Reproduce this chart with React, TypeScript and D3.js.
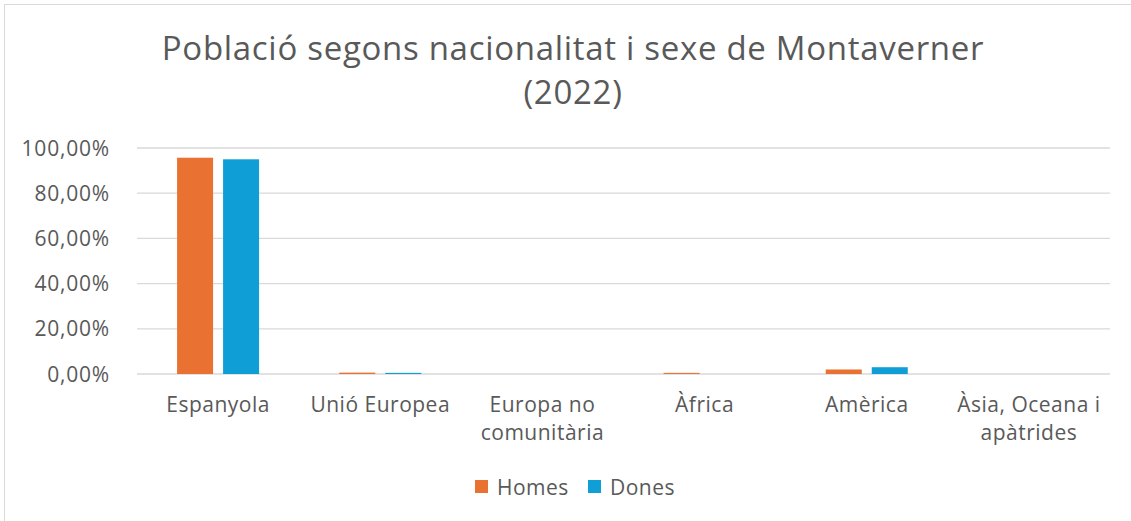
import React from 'react';
import * as d3 from 'd3';

// Values (share of each sex's population, %)
const CATEGORIES = [
  ['Espanyola'],
  ['Unió Europea'],
  ['Europa no', 'comunitària'],
  ['Àfrica'],
  ['Amèrica'],
  ['Àsia, Oceana i', 'apàtrides'],
];
const HOMES = [95.7, 0.6, 0.0, 0.5, 2.0, 0.0];
const DONES = [95.0, 0.5, 0.0, 0.0, 3.0, 0.0];
const SERIES = [
  { name: 'Homes', values: HOMES, color: '#E97132' },
  { name: 'Dones', values: DONES, color: '#0F9ED5' },
];
const Y_TICKS = [0, 20, 40, 60, 80, 100];

const W = 1131;
const H = 521;
const FONT = '"Open Sans", Inter, sans-serif';
const TEXT = '#595959';

const App = () => {
  const keys = CATEGORIES.map((c) => c.join(' '));
  const x = d3.scaleBand<string>().domain(keys).range([137, 1110]);
  const y = d3.scaleLinear().domain([0, 100]).range([374, 148]);
  const barW = 36;
  const gap = 10;
  const fmt = (v: number) => d3.format('.2f')(v).replace('.', ',') + '%';

  return (
    <svg width={W} height={H} style={{ position: 'absolute', left: 0, top: 0 }} fontFamily={FONT}>
      <rect x={0} y={0} width={W} height={H} fill="#fff" />
      <rect x={4.5} y={4.5} width={W + 10} height={H + 10} fill="none" stroke="#d9d9d9" />

      <g fontSize={33} fill={TEXT} letterSpacing={0.7} textAnchor="middle">
        <text x={573} y={60}>Població segons nacionalitat i sexe de Montaverner</text>
        <text x={573} y={104}>(2022)</text>
      </g>

      {Y_TICKS.map((t) => (
        <g key={t}>
          <line x1={137} x2={1110} y1={y(t)} y2={y(t)} stroke="#d9d9d9" strokeWidth={1.3} />
          <text x={110} y={y(t)} dy="0.36em" textAnchor="end" fontSize={21} letterSpacing={0.8} fill={TEXT}>
            {fmt(t)}
          </text>
        </g>
      ))}

      {keys.map((k, i) => {
        const cx = (x(k) as number) + x.bandwidth() / 2;
        return (
          <g key={k}>
            {SERIES.map((s, j) => {
              const v = s.values[i];
              if (v <= 0) return null;
              const bx = cx - gap / 2 - barW + j * (barW + gap);
              return (
                <rect key={s.name} x={bx} y={y(v)} width={barW} height={y(0) - y(v)} fill={s.color} />
              );
            })}
            {CATEGORIES[i].map((line, li) => (
              <text key={li} x={cx} y={412 + li * 28} textAnchor="middle" fontSize={21} letterSpacing={0.5} fill={TEXT}>
                {line}
              </text>
            ))}
          </g>
        );
      })}

      {SERIES.map((s, j) => {
        const lx = j === 0 ? 475 : 588;
        return (
          <g key={s.name}>
            <rect x={lx} y={480} width={13} height={13} fill={s.color} />
            <text x={lx + 22} y={487} dy="0.36em" fontSize={21} letterSpacing={0.5} fill={TEXT}>
              {s.name}
            </text>
          </g>
        );
      })}
    </svg>
  );
};

export default App;
